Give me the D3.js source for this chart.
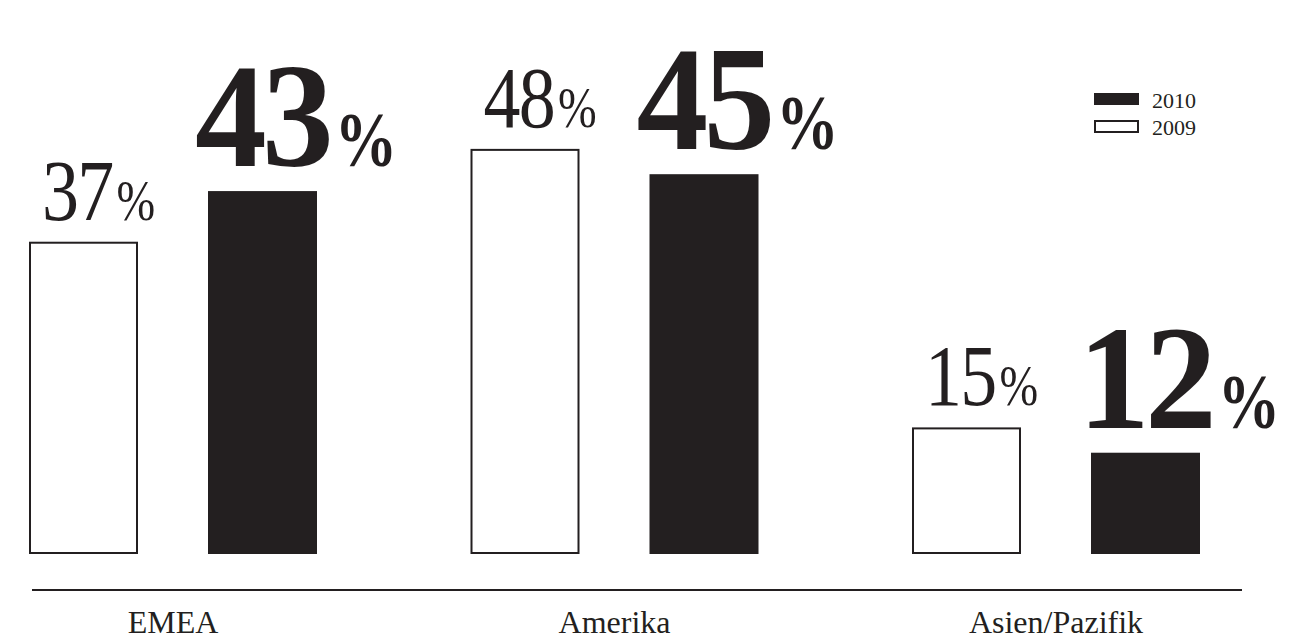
<!DOCTYPE html>
<html>
<head>
<meta charset="utf-8">
<script src="https://cdn.jsdelivr.net/npm/d3@7"></script>
<style>
  body { margin: 0; background: #fff; }
  svg text { font-family: "Liberation Serif", "Times New Roman", serif; fill: #231f20; }
</style>
</head>
<body>
<div id="chart"></div>
<script>
// data
var regions = ["EMEA", "Amerika", "Asien/Pazifik"];
var years = ["2009", "2010"];
var values2009 = [37, 48, 15];
var values2010 = [43, 45, 12];
var legendYears = ["2010", "2009"];

var ink = "#231f20";
var width = 1300, height = 639;
var baseY = 554;

var svg = d3.select("#chart")
  .append("svg")
    .attr("width", width)
    .attr("height", height);

// group scale + inner year scale
var x0 = d3.scaleBand()
  .domain(regions)
  .range([29, 29 + 3 * 441.5]);

var x1 = d3.scaleBand()
  .domain(years)
  .range([0, 288])
  .paddingInner(70 / 179);

var y = d3.scaleLinear()
  .domain([0, 50])
  .range([baseY, 132]);

var rows = [];
for (var i = 0; i < regions.length; i++){
  rows.push({ region: regions[i], year: "2009", value: values2009[i] });
  rows.push({ region: regions[i], year: "2010", value: values2010[i] });
}

function isOld(d){ return d.year == "2009"; }

// bars - 2009 outlined, 2010 solid
svg.selectAll("rect.bar")
  .data(rows)
  .enter()
  .append("rect")
    .attr("class", "bar")
    .attr("x", function(d){ return x0(d.region) + x1(d.year) + (isOld(d) ? 1 : 0); })
    .attr("y", function(d){ return y(d.value) + (isOld(d) ? 1 : 0); })
    .attr("width", function(d){ return x1.bandwidth() - (isOld(d) ? 2 : 0); })
    .attr("height", function(d){ return baseY - y(d.value) - (isOld(d) ? 2 : 0); })
    .attr("fill", function(d){ return isOld(d) ? "#fff" : ink; })
    .attr("stroke", function(d){ return isOld(d) ? ink : "none"; })
    .attr("stroke-width", 2);

// value labels: 2009 regular, 2010 big bold; number and % drawn as two squeezed texts
var labels = svg.selectAll("g.value")
  .data(rows)
  .enter()
  .append("g")
    .attr("class", "value")
    .attr("transform", function(d){
      var lx = x0(d.region) + x1(d.year) + (isOld(d) ? 13 : -13);
      var ly = y(d.value) - (isOld(d) ? 22 : 25);
      return "translate(" + lx + "," + ly + ")";
    });

labels.each(function(d){
  var g = d3.select(this);
  var numScale = isOld(d) ? 0.86 : 0.97;
  var pctScale = 0.8;

  var num = g.append("text")
    .attr("transform", "scale(" + numScale + ",1)")
    .style("font-weight", isOld(d) ? "normal" : "bold")
    .style("font-size", isOld(d) ? "86px" : "148px")
    .style("letter-spacing", isOld(d) ? "-2px" : "-5px")
    .text(d.value);

  var numWidth = num.node().getComputedTextLength() * numScale;

  g.append("text")
    .attr("transform", "translate(" + (numWidth + (isOld(d) ? 4 : 6)) + ",0) scale(" + pctScale + ",1)")
    .style("font-weight", isOld(d) ? "normal" : "bold")
    .style("font-size", isOld(d) ? "58px" : "78px")
    .text("%");
});

// baseline
svg.append("line")
  .attr("x1", 32).attr("x2", 1242)
  .attr("y1", 590).attr("y2", 590)
  .attr("stroke", ink)
  .attr("stroke-width", 2);

// category labels
svg.selectAll("text.cat")
  .data(regions)
  .enter()
  .append("text")
    .attr("class", "cat")
    .attr("x", function(d){ return x0(d) + x1("2009") + (x1("2010") + x1.bandwidth() - x1("2009")) / 2; })
    .attr("y", 633)
    .attr("text-anchor", "middle")
    .style("font-size", "32px")
    .text(function(d){ return d; });

// legend
var legend = svg.selectAll("g.legend")
  .data(legendYears)
  .enter()
  .append("g")
    .attr("class", "legend")
    .attr("transform", function(d, i){ return "translate(1094," + (93 + i * 27) + ")"; });

legend.append("rect")
  .attr("x", function(d){ return d == "2009" ? 1 : 0; })
  .attr("y", function(d){ return d == "2009" ? 1 : 0; })
  .attr("width", function(d){ return d == "2009" ? 43 : 45; })
  .attr("height", function(d){ return d == "2009" ? 11 : 12; })
  .attr("fill", function(d){ return d == "2010" ? ink : "#fff"; })
  .attr("stroke", function(d){ return d == "2009" ? ink : "none"; })
  .attr("stroke-width", 2);

legend.append("text")
  .attr("x", 58)
  .attr("y", 15)
  .style("font-size", "22px")
  .text(function(d){ return d; });
</script>
</body>
</html>
